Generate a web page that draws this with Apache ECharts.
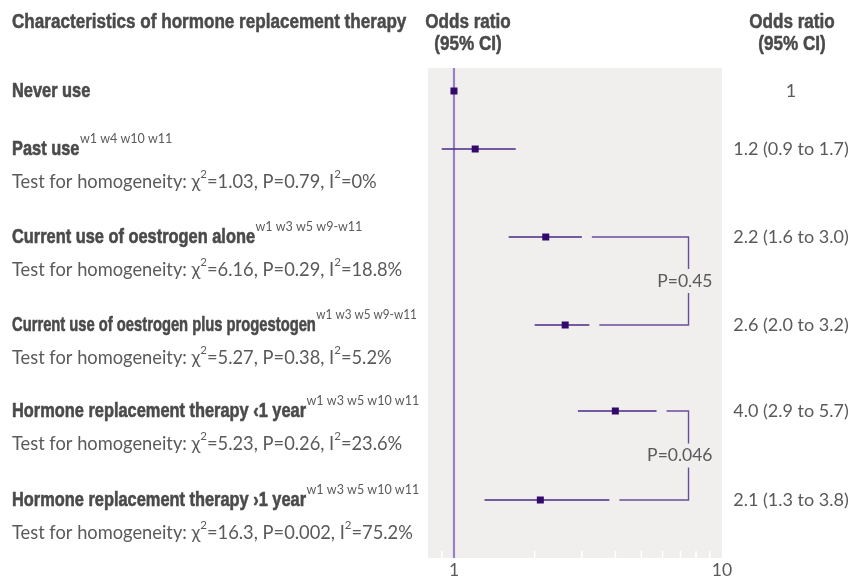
<!DOCTYPE html>
<html><head><meta charset="utf-8">
<script src="https://cdn.jsdelivr.net/npm/echarts@6/dist/echarts.min.js"></script>
<style>html,body{margin:0;padding:0;background:#fff}#c{width:851px;height:577px}</style>
</head><body><div id="c"></div>
<script>
// ---- data ----
const categories = ['Never use','Past use','Current use of oestrogen alone','Current use of oestrogen plus progestogen','Hormone replacement therapy \u20391 year','Hormone replacement therapy \u203a1 year'];
const refs = ['', 'w1 w4 w10 w11', 'w1 w3 w5 w9-w11', 'w1 w3 w5 w9-w11', 'w1 w3 w5 w10 w11', 'w1 w3 w5 w10 w11'];
const oddsRatio = [1, 1.2, 2.2, 2.6, 4.0, 2.1];
const ciLow = [null, 0.9, 1.6, 2.0, 2.9, 1.3];
const ciHigh = [null, 1.7, 3.0, 3.2, 5.7, 3.8];
const ciText = ['1', '1.2 (0.9 to 1.7)', '2.2 (1.6 to 3.0)', '2.6 (2.0 to 3.2)', '4.0 (2.9 to 5.7)', '2.1 (1.3 to 3.8)'];
const hetChi2 = [null, '1.03', '6.16', '5.27', '5.23', '16.3'];
const hetP = [null, '0.79', '0.29', '0.38', '0.26', '0.002'];
const hetI2 = [null, '0%', '18.8%', '5.2%', '23.6%', '75.2%'];
const comparisonA = [2, 4];
const comparisonB = [3, 5];
const comparisonP = ['P=0.45', 'P=0.046'];
const minorTicks = [0.9, 2, 3, 4, 5, 6, 7, 8, 9];
const tickLabels = ['1', '10'];
const tickValues = [1, 10];

// ---- layout ----
const rowY = [23, 81, 169, 257, 343, 432];
const rowFit = [1, 1, 1, 0.9, 1, 1];
const bracketX = 7.5;
const C = {
  text: '#5a5a5c', bold: '#4a4a4a', square: '#330a6b', ci: '#4a2a86',
  bracket: '#6a4c9a', ref: '#9a80c2', panel: '#f0efee'
};
const BOLD = '"Liberation Sans", Arial, sans-serif';
const BODY = 'Lato, "Noto Sans", sans-serif';
const LABEL_SIZE = 21, LABEL_SCALE = 0.78;
const TITLE_SIZE = 20, TITLE_SCALE = 0.855;

const mctx = document.createElement('canvas').getContext('2d');
function textWidth(t, font) { mctx.font = font; return mctx.measureText(t).width; }

const chart = echarts.init(document.getElementById('c'), null, {renderer: 'canvas'});

function renderRow(params, api) {
  const i = api.value(0);
  const y = api.coord([1, rowY[i]])[1];
  const sc = LABEL_SCALE * rowFit[i];
  const ch = [];
  ch.push({type: 'text', silent: true, x: 12, y: y, scaleX: sc, style: {
    x: 0, y: 0, verticalAlign: 'middle', text: categories[i],
    fontFamily: BOLD, fontWeight: 'bold', fontSize: LABEL_SIZE, fill: C.bold,
    stroke: C.bold, lineWidth: 0.6}});
  if (refs[i]) {
    const w = textWidth(categories[i], 'bold ' + LABEL_SIZE + 'px ' + BOLD) * sc;
    ch.push({type: 'text', silent: true, x: 12 + w + 0.5, y: y - 4, scaleX: rowFit[i] < 1 ? 0.94 : 1, style: {
      x: 0, y: 0, verticalAlign: 'bottom', text: refs[i],
      fontFamily: BODY, fontSize: 12.5, fill: C.text}});
  }
  if (hetChi2[i] != null) {
    ch.push({type: 'text', silent: true, style: {
      x: 12, y: y + 30.5, verticalAlign: 'middle',
      text: '{n|Test for homogeneity: \u03c7}{u|2}{n|=' + hetChi2[i] + ', P=' + hetP[i] + ', I}{u|2}{n|=' + hetI2[i] + '}',
      rich: {
        n: {fontFamily: BODY, fontSize: 18.3, fill: C.text, lineHeight: 23, verticalAlign: 'bottom'},
        u: {fontFamily: BODY, fontSize: 11.5, fill: C.text, lineHeight: 12, verticalAlign: 'top'}
      }
    }});
  }
  if (ciLow[i] != null) {
    const a = api.coord([ciLow[i], rowY[i]]);
    const b = api.coord([ciHigh[i], rowY[i]]);
    ch.push({type: 'line', silent: true, shape: {x1: a[0], y1: y, x2: b[0], y2: y},
      style: {stroke: C.ci, lineWidth: 1.6}});
  }
  const p = api.coord([oddsRatio[i], rowY[i]]);
  ch.push({type: 'rect', silent: true, shape: {x: p[0] - 3.5, y: y - 3.5, width: 7, height: 7},
    style: {fill: C.square}});
  ch.push({type: 'text', silent: true, style: {
    x: 791, y: y, align: 'center', verticalAlign: 'middle', text: ciText[i],
    fontFamily: BODY, fontSize: 18, fill: C.text}});
  return {type: 'group', children: ch};
}

function renderBracket(params, api) {
  const k = api.value(0);
  const ia = comparisonA[k], ib = comparisonB[k];
  const bx = api.coord([bracketX, 0])[0];
  const ya = api.coord([1, rowY[ia]])[1];
  const yb = api.coord([1, rowY[ib]])[1];
  const xa = api.coord([ciHigh[ia], 0])[0] + 10;
  const xb = api.coord([ciHigh[ib], 0])[0] + 10;
  const ym = (ya + yb) / 2;
  const st = {stroke: C.bracket, lineWidth: 1.4};
  return {type: 'group', children: [
    {type: 'polyline', silent: true, shape: {points: [[xa, ya], [bx, ya], [bx, ym - 12]]}, style: Object.assign({fill: null}, st)},
    {type: 'polyline', silent: true, shape: {points: [[xb, yb], [bx, yb], [bx, ym + 12]]}, style: Object.assign({fill: null}, st)},
    {type: 'text', silent: true, style: {x: bx + 24, y: ym, align: 'right', verticalAlign: 'middle',
      text: comparisonP[k], fontFamily: BODY, fontSize: 17.5, fill: C.text}}
  ]};
}

function renderTicks(params, api) {
  const x = api.coord([minorTicks[api.value(0)], 0])[0];
  const bottom = params.coordSys.y + params.coordSys.height;
  return {type: 'line', silent: true, shape: {x1: x, y1: bottom - 7, x2: x, y2: bottom},
    style: {stroke: '#ffffff', lineWidth: 1.5}};
}

function renderTickLabels(params, api) {
  const k = api.value(0);
  const x = api.coord([tickValues[k], 0])[0];
  const bottom = params.coordSys.y + params.coordSys.height;
  return {type: 'text', silent: true, style: {x: x, y: bottom + 12, align: 'center', verticalAlign: 'middle',
    text: tickLabels[k], fontFamily: BODY, fontSize: 17.5, fill: C.text}};
}

function renderRefLine(params, api) {
  const x = api.coord([1, 0])[0];
  const cs = params.coordSys;
  return {type: 'line', silent: true, shape: {x1: x, y1: cs.y, x2: x, y2: cs.y + cs.height},
    style: {stroke: C.ref, lineWidth: 2.2}};
}

function header(text, x, y, align) {
  return {type: 'text', x: x, y: y, scaleX: TITLE_SCALE, silent: true,
    style: {x: 0, y: 0, text: text, align: align, verticalAlign: 'middle',
      fontFamily: BOLD, fontWeight: 'bold', fontSize: TITLE_SIZE, fill: C.bold,
      stroke: C.bold, lineWidth: 0.5}};
}

chart.setOption({
  animation: false,
  grid: {left: 428, right: 129, top: 68, bottom: 19, show: true, backgroundColor: C.panel, borderWidth: 0},
  xAxis: {type: 'log', logBase: 10, min: 0.8, max: 10, axisLine: {show: false}, axisTick: {show: false},
    axisLabel: {show: false}, splitLine: {show: false}},
  yAxis: {type: 'value', min: 0, max: 490, inverse: true, show: false},
  graphic: [
    header('Characteristics of hormone replacement therapy', 12, 22, 'left'),
    header('Odds ratio', 468, 22, 'center'),
    header('(95% CI)', 468, 44, 'center'),
    header('Odds ratio', 792, 22, 'center'),
    header('(95% CI)', 792, 44, 'center')
  ],
  series: [
    {type: 'custom', renderItem: renderTicks, data: minorTicks.map((v, i) => [i]), clip: false, z: 1},
    {type: 'custom', renderItem: renderRefLine, data: [[0]], clip: false, z: 2},
    {type: 'custom', renderItem: renderBracket, data: comparisonP.map((v, i) => [i]), clip: false, z: 3},
    {type: 'custom', renderItem: renderRow, data: categories.map((v, i) => [i]), clip: false, z: 4},
    {type: 'custom', renderItem: renderTickLabels, data: tickLabels.map((v, i) => [i]), clip: false, z: 4}
  ]
});
</script></body></html>
